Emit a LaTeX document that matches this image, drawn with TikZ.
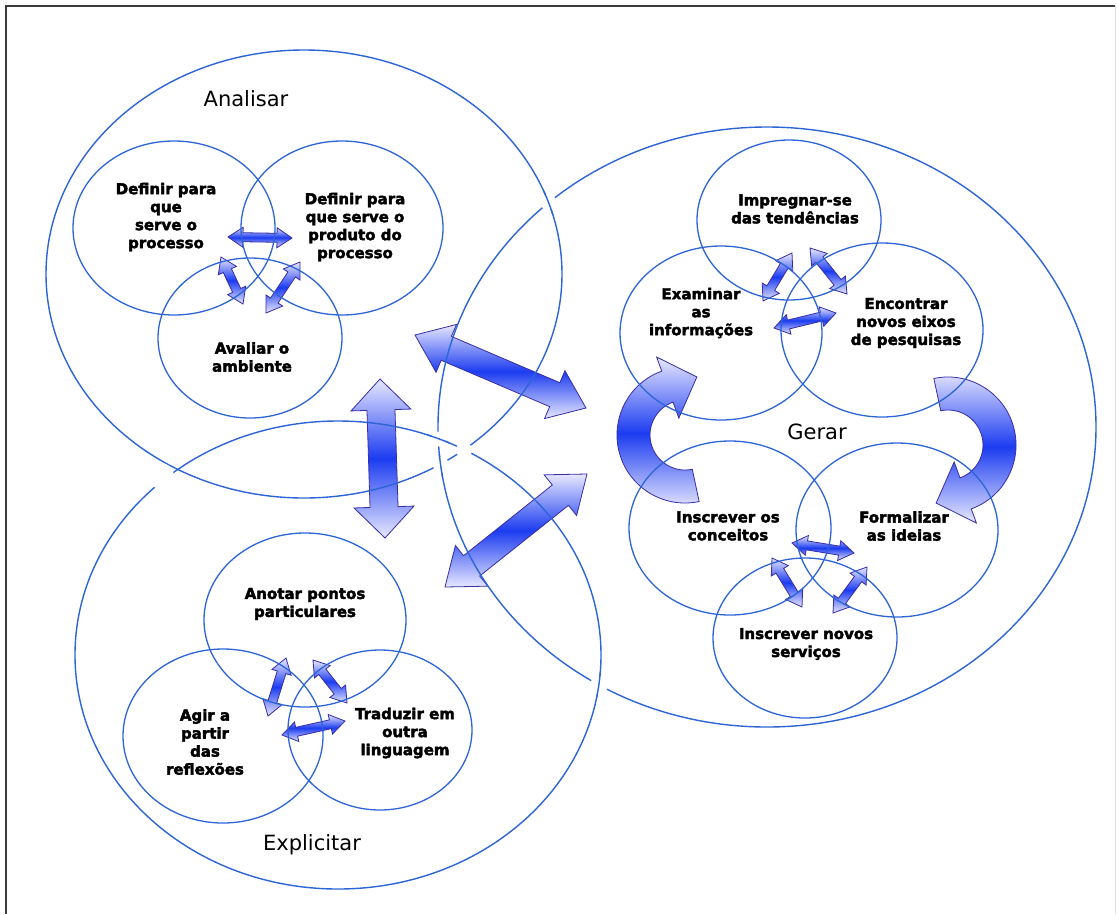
\documentclass[tikz,border=0pt]{standalone}
\usepackage{fontspec}
\setmainfont{DejaVu Sans}[BoldFeatures={FakeBold=2.6}]
\usetikzlibrary{calc}

\definecolor{ringblue}{RGB}{45,100,215}
\definecolor{arrowedge}{RGB}{55,45,165}
\definecolor{arrowlight}{RGB}{232,232,255}
\definecolor{arrowblue}{RGB}{28,60,240}
\definecolor{framegray}{RGB}{60,60,60}

\tikzset{
  ring/.style={draw=ringblue, line width=1.3pt},
  bigring/.style={draw=ringblue, line width=1.4pt},
  arrowfill/.style={draw=arrowedge, line width=0.8pt, top color=arrowlight,
    bottom color=arrowlight, middle color=arrowblue},
  itemtext/.style={font=\bfseries\fontsize{15}{18}\selectfont, align=center, inner sep=0pt},
  phasetext/.style={font=\fontsize{21}{25}\selectfont, inner sep=0pt},
}

% block double arrow between two tips:
% #1,#2 tips, #3 shaft half width, #4 head half width, #5 head length
\newcommand{\twoway}[5]{%
  \path ($(#1)!#5!(#2)$) coordinate (tw-a) ($(#2)!#5!(#1)$) coordinate (tw-b);
  \shade[arrowfill] (#1) -- ($(tw-a)!#4!90:(#2)$) -- ($(tw-a)!#3!90:(#2)$)
     -- ($(tw-b)!#3!-90:(#1)$) -- ($(tw-b)!#4!-90:(#1)$) -- (#2)
     -- ($(tw-b)!#4!90:(#1)$) -- ($(tw-b)!#3!90:(#1)$)
     -- ($(tw-a)!#3!-90:(#2)$) -- ($(tw-a)!#4!-90:(#2)$) -- cycle;
}

\begin{document}
\begin{tikzpicture}[x=1pt, y=-1pt]
\useasboundingbox (0,0) rectangle (1119,914);
\fill[white] (0,0) rectangle (1119,914);

% frame
\draw[framegray, line width=1.6pt] (6,914) -- (6,6) -- (1115,6);
\draw[black!12, line width=1pt] (1115,6) -- (1115,914);

% ---------- arrow tips ----------
\coordinate (v1) at (380,379);  \coordinate (v2) at (385,538);
\coordinate (d1) at (415,335);  \coordinate (d2) at (586,408);
\coordinate (d3) at (587,474);  \coordinate (d4) at (445,587);

\coordinate (a-h1) at (228,237); \coordinate (a-h2) at (292,238);
\coordinate (a-l1) at (221,257); \coordinate (a-l2) at (243,304);
\coordinate (a-r1) at (300,262); \coordinate (a-r2) at (266,313);

\coordinate (g-l1) at (792,253); \coordinate (g-l2) at (763,301);
\coordinate (g-r1) at (810,248); \coordinate (g-r2) at (847,294);
\coordinate (g-h1) at (774,328); \coordinate (g-h2) at (836,313);

\coordinate (s-h1) at (792,543); \coordinate (s-h2) at (854,553);
\coordinate (s-l1) at (772,558); \coordinate (s-l2) at (802,607);
\coordinate (s-r1) at (867,567); \coordinate (s-r2) at (833,613);

\coordinate (e-l1) at (286,658); \coordinate (e-l2) at (268,716);
\coordinate (e-r1) at (313,660); \coordinate (e-r2) at (347,703);
\coordinate (e-h1) at (282,735); \coordinate (e-h2) at (345,721);

\coordinate (cl) at (685,435);
\coordinate (cr) at (948,445);

% ---------- large arrows between the phases ----------
\twoway{v1}{v2}{14pt}{30pt}{31pt}
\twoway{d1}{d2}{13pt}{26pt}{34pt}
\twoway{d3}{d4}{13pt}{26pt}{34pt}

% curved cycle arrows inside "Gerar"
\shade[arrowfill] ($(cl)+(78:68)$) arc[start angle=78, end angle=250, radius=68]
   -- ($(cl)+(250:83)$) -- ($(cl)+(250:50.5)+(340:31)$) -- ($(cl)+(250:18)$)
   -- ($(cl)+(250:35)$) arc[start angle=250, end angle=78, radius=35] -- cycle;
\shade[arrowfill] ($(cr)+(258:68)$) arc[start angle=258, end angle=430, radius=68]
   -- ($(cr)+(430:83)$) -- ($(cr)+(430:50.5)+(160:31)$) -- ($(cr)+(430:18)$)
   -- ($(cr)+(430:35)$) arc[start angle=430, end angle=258, radius=35] -- cycle;

% ---------- small arrows between the activities ----------
\twoway{a-h1}{a-h2}{4.5pt}{10pt}{15pt}
\twoway{a-l1}{a-l2}{4.5pt}{10pt}{15pt}
\twoway{a-r1}{a-r2}{4.5pt}{10pt}{15pt}
\twoway{g-l1}{g-l2}{4.5pt}{10pt}{15pt}
\twoway{g-r1}{g-r2}{4.5pt}{10pt}{15pt}
\twoway{g-h1}{g-h2}{4.5pt}{10pt}{15pt}
\twoway{s-h1}{s-h2}{4.5pt}{10pt}{15pt}
\twoway{s-l1}{s-l2}{4.5pt}{10pt}{15pt}
\twoway{s-r1}{s-r2}{4.5pt}{10pt}{15pt}
\twoway{e-l1}{e-l2}{4.5pt}{10pt}{15pt}
\twoway{e-r1}{e-r2}{4.5pt}{10pt}{15pt}
\twoway{e-h1}{e-h2}{4.5pt}{10pt}{15pt}

% ---------- the three phase rings ----------
\draw[bigring] (304,274) ellipse [x radius=258, y radius=224]; % Analisar
\draw[bigring] (767,427) ellipse [x radius=329, y radius=300]; % Gerar
\draw[bigring] (338,655) ellipse [x radius=263, y radius=234]; % Explicitar

% interlacing where the rings cross
\fill[white] (548.5,202.5) circle (8);
\begin{scope}
  \clip (548.5,202.5) circle (13);
  \draw[bigring] (304,274) ellipse [x radius=258, y radius=224];
\end{scope}
\fill[white] (438,439) circle (7.5);
\begin{scope}
  \clip (438,439) circle (12);
  \draw[bigring] (338,655) ellipse [x radius=263, y radius=234];
\end{scope}
\fill[white] (441,465) circle (8);
\begin{scope}
  \clip (441,465) circle (12);
  \draw[bigring] (767,427) ellipse [x radius=329, y radius=300];
\end{scope}
\fill[white] (599,685) circle (9);
\begin{scope}
  \clip (599,685) circle (13);
  \draw[bigring] (338,655) ellipse [x radius=263, y radius=234];
\end{scope}
\fill[white] (464,450) circle (8);
\fill[white] (161,476) circle (13);

% ---------- activity circles ----------
\draw[ring] (174,228) ellipse [x radius=101, y radius=87];
\draw[ring] (342,228) ellipse [x radius=101, y radius=87];
\draw[ring] (250,338) ellipse [x radius=92, y radius=80];

\draw[ring] (789,220) ellipse [x radius=92, y radius=80];
\draw[ring] (721,333) ellipse [x radius=101, y radius=87];
\draw[ring] (882,330) ellipse [x radius=101, y radius=87];

\draw[ring] (730,528) ellipse [x radius=101, y radius=87];
\draw[ring] (897,530) ellipse [x radius=101, y radius=87];
\draw[ring] (805,638) ellipse [x radius=92, y radius=80];

\draw[ring] (305,620) ellipse [x radius=101, y radius=87];
\draw[ring] (223,736) ellipse [x radius=100, y radius=87];
\draw[ring] (380,730) ellipse [x radius=92, y radius=80];

% ---------- labels ----------
\node[phasetext] (analisar) at (246,99) {Analisar};
\node[phasetext] (gerar) at (817,432) {Gerar};
\node[phasetext] (explicitar) at (312,845) {Explicitar};

\node[itemtext] (a1) at (166,217) {Definir para\\que\\serve o\\processo};
\node[itemtext] (a2) at (355,227) {Definir para\\que serve o\\produto do\\processo};
\node[itemtext] (a3) at (252,357) {Avaliar o\\ambiente};

\node[itemtext] (g1) at (795,209) {Impregnar-se\\das tendências};
\node[itemtext] (g2) at (701,313) {Examinar\\as\\informações};
\node[itemtext] (g3) at (906,323) {Encontrar\\novos eixos\\de pesquisas};

\node[itemtext] (g4) at (728,526) {Inscrever os\\conceitos};
\node[itemtext] (g5) at (904,526) {Formalizar\\as ideias};
\node[itemtext] (g6) at (806,644) {Inscrever novos\\serviços};

\node[itemtext] (e1) at (305,604) {Anotar pontos\\particulares};
\node[itemtext] (e2) at (205,742) {Agir a\\partir\\das\\reflexões};
\node[itemtext] (e3) at (405,733) {Traduzir em\\outra\\linguagem};
\end{tikzpicture}
\end{document}
